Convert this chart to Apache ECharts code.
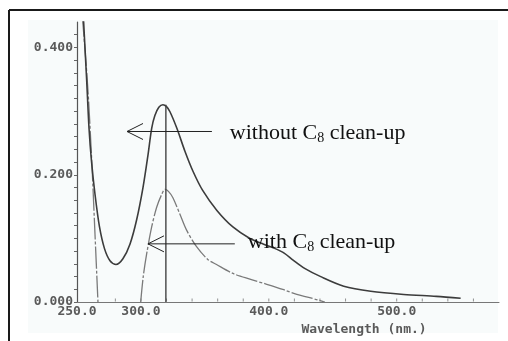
<!DOCTYPE html>
<html><head><meta charset="utf-8">
<script src="https://cdn.jsdelivr.net/npm/echarts@6/dist/echarts.min.js"></script>
<style>html,body{margin:0;padding:0;background:#fff}#c{width:508px;height:341px}</style>
</head><body><div id="c"></div>
<script>
// Spectrum without C8 clean-up (nm, absorbance)
const withoutC8 = [
  [254.9,0.451],[257.6,0.347],[259.4,0.273],[261.3,0.222],[264.1,0.169],[267.6,0.118],
  [271.5,0.084],[275.8,0.065],[280.5,0.059],[285.9,0.068],[291.4,0.091],[296.6,0.129],
  [301.6,0.180],[305.5,0.231],[308.4,0.273],[310.9,0.293],[314.0,0.306],[317.2,0.310],
  [320.0,0.307],[322.7,0.299],[328.1,0.273],[334.4,0.237],[340.6,0.206],[348.4,0.175],
  [359.4,0.144],[371.9,0.118],[385.2,0.100],[396.0,0.091],[405.0,0.084],[412.0,0.077],
  [419.0,0.066],[428.0,0.053],[440.6,0.040],[458.6,0.025],[479.7,0.017],[505.5,0.012],
  [531.0,0.009],[550.0,0.006]
];
// Spectrum with C8 clean-up (two visible segments)
const withC8 = [
  [254.1,0.451],[258.4,0.338],[261.5,0.223],[264.0,0.110],[266.4,0.0],
  null,
  [299.8,0.0],[301.8,0.040],[304.5,0.076],[308.4,0.118],[312.3,0.149],[316.2,0.169],
  [318.8,0.177],[321.5,0.174],[325.0,0.164],[330.5,0.138],[335.7,0.113],[343.5,0.087],
  [352.3,0.067],[359.1,0.059],[371.9,0.045],[385.2,0.036],[398.4,0.028],[410.9,0.020],
  [421.9,0.012],[432.0,0.007],[443.8,0.0]
];
const peakLine = [[319.5,0],[319.5,0.31]];
const xTickLabels = [250,300,400,500];
const xMinorTicks = [280,300,320,340,360,380,400,420,440,460,480,500,520,540,560];
const yTickLabels = [0,0.2,0.4];
const annotations = [
  {main:'without C', sub:'8', rest:' clean-up', tip:[289.1,0.268], tail:[355.5,0.268], at:[369.5,0.265]},
  {main:'with C', sub:'8', rest:' clean-up', tip:[305.5,0.0915], tail:[373.4,0.0915], at:[383.6,0.094]}
];

const chart = echarts.init(document.getElementById('c'), null, {renderer:'canvas'});
const monoFont = {fontFamily:'DejaVu Sans Mono', fontWeight:'bold', fontSize:13, color:'#5a5a5a'};
chart.setOption({
  animation:false,
  backgroundColor:'#ffffff',
  grid:{left:77, right:9, top:22, bottom:35},
  xAxis:{
    type:'value', min:250, max:580, interval:10,
    axisLine:{lineStyle:{color:'#777', width:1}},
    axisTick:{show:false},
    splitLine:{show:false},
    axisLabel:Object.assign({margin:3, showMinLabel:true, showMaxLabel:false,
      formatter:v=>xTickLabels.some(t=>Math.abs(t-v)<1e-6)?v.toFixed(1):''}, monoFont),
    name:'Wavelength (nm.)', nameLocation:'middle', nameGap:11,
    nameTextStyle:Object.assign({padding:[0,0,0,152]}, monoFont)
  },
  yAxis:{
    type:'value', min:0, max:0.44, interval:0.02,
    axisLine:{show:true, lineStyle:{color:'#555', width:1.2}},
    axisTick:{show:true, length:3, lineStyle:{color:'#666'}},
    splitLine:{show:false},
    axisLabel:Object.assign({margin:4, showMaxLabel:false,
      formatter:v=>yTickLabels.some(t=>Math.abs(t-v)<1e-6)?v.toFixed(3):''}, monoFont)
  },
  series:[
    {type:'line', data:withoutC8, showSymbol:false, smooth:0.3, clip:true,
     lineStyle:{color:'#3c3c3c', width:1.6}, z:3},
    {type:'line', data:withC8, showSymbol:false, smooth:0.3, clip:true, connectNulls:false,
     lineStyle:{color:'#7a7a7a', width:1.3, type:[22,2,3,2]}, z:2},
    {type:'line', data:peakLine, showSymbol:false, lineStyle:{color:'#444', width:1.4}, z:3},
    {type:'scatter', data:xMinorTicks.map(v=>[v,0]), symbol:'rect', symbolSize:[1,3],
     symbolOffset:[0,-2], itemStyle:{color:'#777'}, silent:true, z:1}
  ]
});

function px(p){ return chart.convertToPixel({gridIndex:0}, p); }
const g = [
  {type:'rect', shape:{x:28,y:20,width:470,height:313}, style:{fill:'#f8fbfb'}, z:-10, silent:true},
  {type:'line', shape:{x1:9,y1:10,x2:508,y2:10}, style:{stroke:'#1a1a1a', lineWidth:2}, z:10},
  {type:'line', shape:{x1:9,y1:10,x2:9,y2:341}, style:{stroke:'#1a1a1a', lineWidth:2}, z:10}
];
annotations.forEach(a=>{
  const tip = px(a.tip), tail = px(a.tail), at = px(a.at);
  g.push({type:'line', shape:{x1:tip[0],y1:tip[1],x2:tail[0],y2:tail[1]}, style:{stroke:'#222', lineWidth:1}, z:10});
  g.push({type:'polyline', shape:{points:[[tip[0]+16,tip[1]-8],[tip[0],tip[1]],[tip[0]+16,tip[1]+8]]},
    style:{stroke:'#222', lineWidth:1, fill:null}, z:10});
  g.push({type:'text', x:at[0], y:at[1], z:10, style:{
    text:'{m|'+a.main+'}{s|'+a.sub+'}{m|'+a.rest+'}',
    verticalAlign:'middle', align:'left',
    rich:{
      m:{fontFamily:'Liberation Serif', fontSize:22, fill:'#111', lineHeight:26},
      s:{fontFamily:'Liberation Serif', fontSize:14, fill:'#111', lineHeight:26, padding:[10,0,0,0]}
    }}});
});
chart.setOption({graphic:g});
</script></body></html>
